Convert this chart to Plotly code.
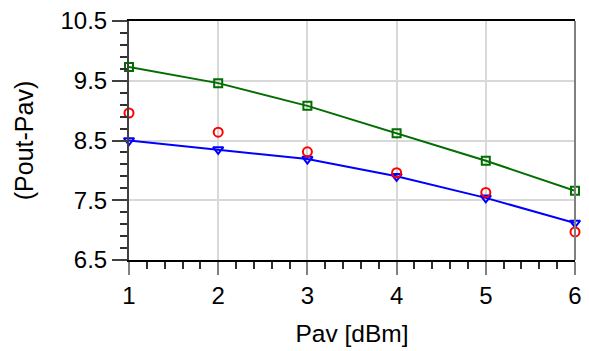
import plotly.graph_objects as go

pav = [1, 2, 3, 4, 5, 6]
green_sq = [9.73, 9.46, 9.08, 8.62, 8.16, 7.66]
blue_tri = [8.50, 8.35, 8.19, 7.90, 7.54, 7.12]
red_circ = [8.96, 8.64, 8.31, 7.96, 7.63, 6.97]

y_ticks = [6.5, 7.5, 8.5, 9.5, 10.5]
y_ticktext = ["6.5", "7.5", "8.5", "9.5", "10.5"]
x_ticks = [1, 2, 3, 4, 5, 6]

FONT = "Liberation Sans, Arial, sans-serif"

fig = go.Figure()
fig.add_trace(go.Scatter(
    x=pav, y=green_sq, mode="lines+markers",
    line=dict(color="#006e00", width=2),
    marker=dict(symbol="square-open", size=8, color="#006e00", line=dict(width=2, color="#006e00")),
    showlegend=False, cliponaxis=False))
fig.add_trace(go.Scatter(
    x=pav, y=blue_tri, mode="lines+markers",
    line=dict(color="#0000ff", width=2),
    marker=dict(symbol="triangle-down-open", size=9, color="#0000ff", line=dict(width=2, color="#0000ff")),
    showlegend=False, cliponaxis=False))
fig.add_trace(go.Scatter(
    x=pav, y=red_circ, mode="markers",
    marker=dict(symbol="circle-open", size=9, color="#ff0000", line=dict(width=2, color="#ff0000")),
    showlegend=False, cliponaxis=False))

fig.update_layout(
    width=589, height=351,
    margin=dict(l=129, r=14, t=21, b=91, autoexpand=False),
    paper_bgcolor="white", plot_bgcolor="white",
    font=dict(family=FONT, size=23, color="black"),
    xaxis=dict(
        range=[1, 6], tickmode="array", tickvals=x_ticks, ticktext=[str(v) for v in x_ticks],
        ticks="outside", ticklen=13, tickwidth=2, tickcolor="#808080",
        showgrid=True, gridcolor="#d8d8d8", gridwidth=2,
        showline=True, linecolor="black", linewidth=2, mirror=True,
        zeroline=False, automargin=False,
        minor=dict(dtick=0.2, tick0=1, ticks="outside", ticklen=7, tickwidth=1.5, tickcolor="#303030", showgrid=False),
        tickfont=dict(size=24),
        title=dict(text="Pav [dBm]", font=dict(size=24.5), standoff=17),
    ),
    yaxis=dict(
        range=[6.5, 10.5], tickmode="array", tickvals=y_ticks, ticktext=y_ticktext,
        ticks="outside", ticklen=15, tickwidth=2, tickcolor="#404040",
        showgrid=True, gridcolor="#d8d8d8", gridwidth=2,
        showline=True, linecolor="#404040", linewidth=2, mirror=False,
        zeroline=False, automargin=False,
        minor=dict(dtick=0.2, tick0=6.5, ticks="outside", ticklen=7, tickwidth=1.5, tickcolor="#303030", showgrid=False),
        tickfont=dict(size=24),
        title=dict(text="(Pout-Pav)", font=dict(size=25), standoff=20),
    ),
    shapes=[dict(type="line", xref="paper", yref="paper", x0=1, x1=1, y0=0, y1=1,
                 line=dict(color="#808080", width=2))],
)

fig.write_html("out.html", config={"displayModeBar": False},
               post_script="document.body.style.margin='0';")
